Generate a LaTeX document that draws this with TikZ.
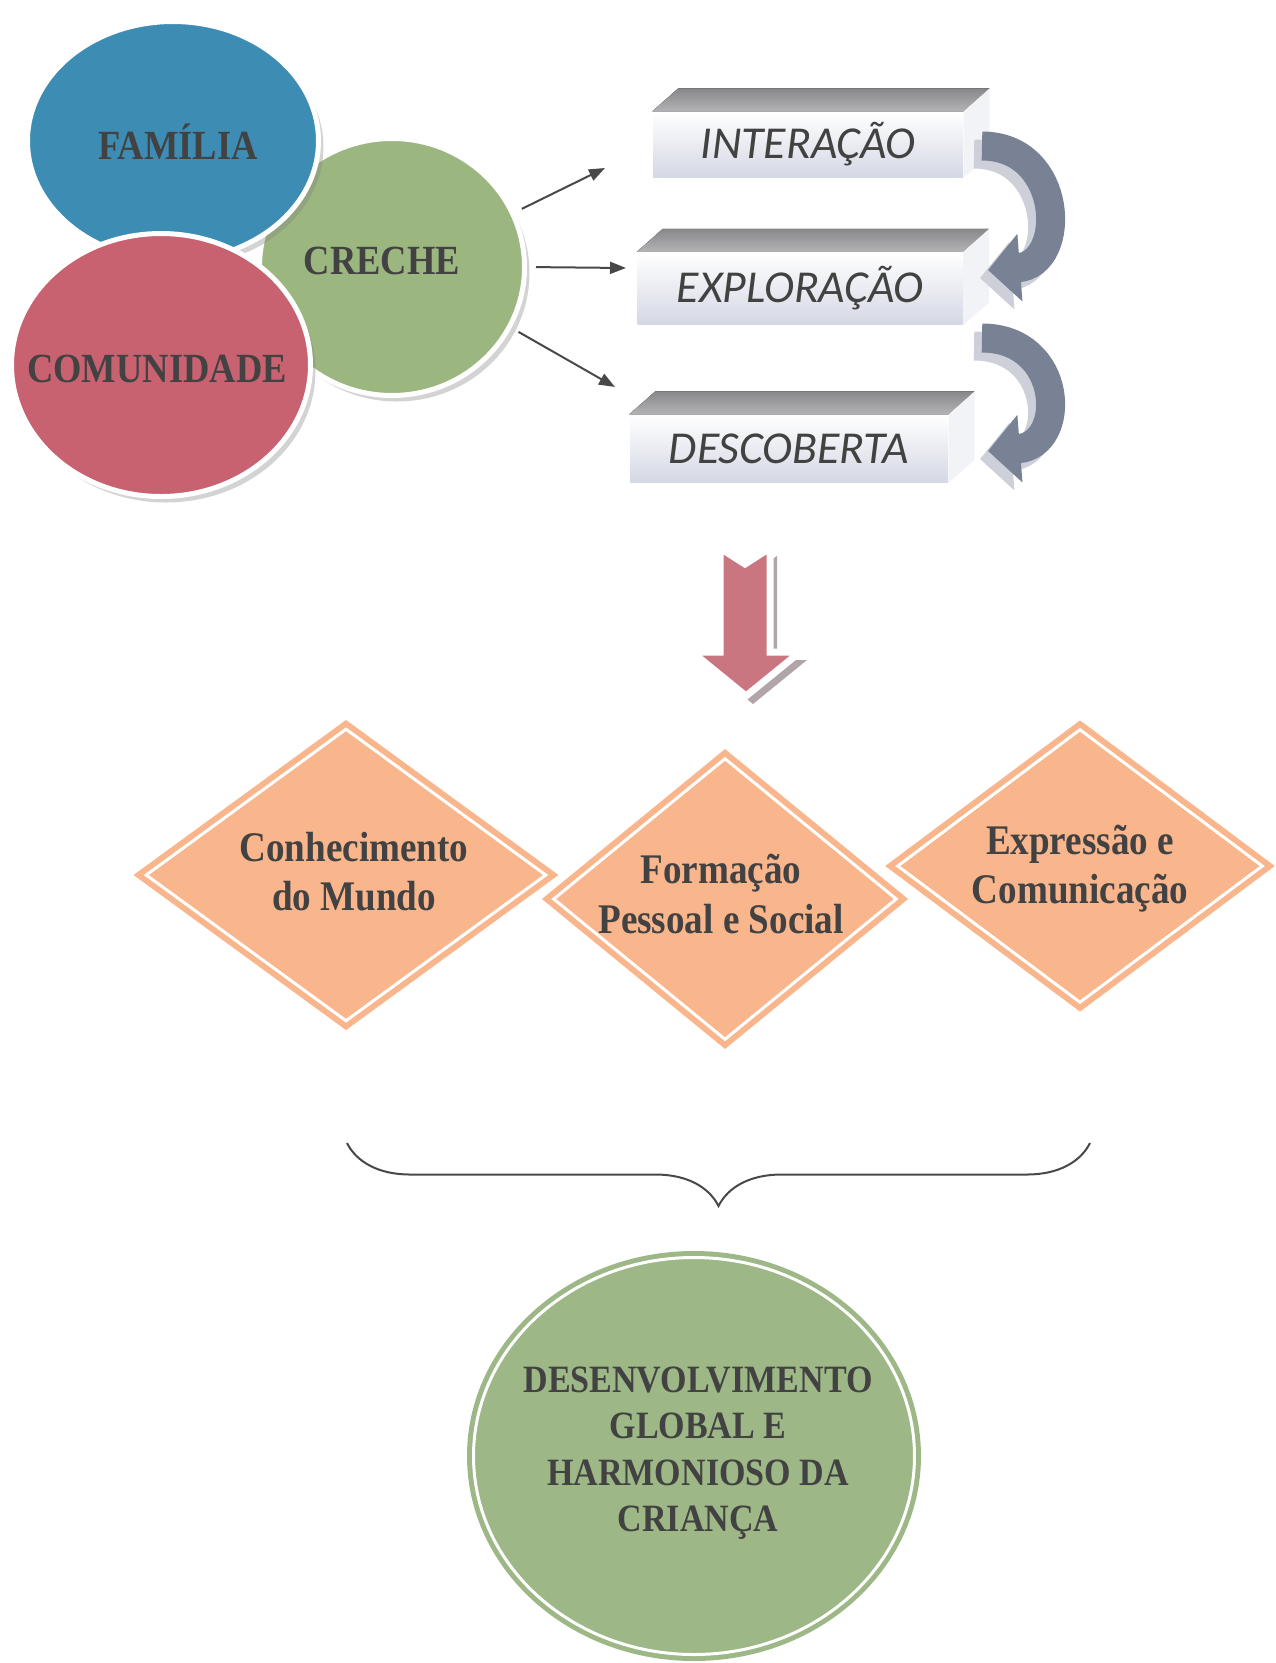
\documentclass[tikz,border=0pt]{standalone}
\usepackage{fontspec}
\setmainfont{Liberation Serif}
\newfontfamily\condfont[FakeStretch=0.88]{Liberation Serif}
\newfontfamily\handfont{Carlito}
\usepackage{tikz}
\usetikzlibrary{shapes.geometric, positioning, arrows.meta,
                decorations.pathreplacing, calc, shadows}
\definecolor{FamBlue}{RGB}{60,140,180}
\definecolor{CreGreen}{RGB}{156,182,128}
\definecolor{ComRed}{RGB}{200,98,112}
\definecolor{DiaOrange}{RGB}{249,182,141}
\definecolor{DevGreen}{RGB}{157,184,134}
\definecolor{DownPink}{RGB}{202,118,128}
\definecolor{DownShade}{RGB}{178,165,170}
\definecolor{CurvGrey}{RGB}{120,130,148}
\definecolor{CurvShade}{RGB}{205,208,216}
\definecolor{BoxTop}{RGB}{160,160,163}
\definecolor{BoxLow}{RGB}{212,216,228}
\definecolor{BoxSide}{RGB}{242,243,246}
\definecolor{TxtGrey}{RGB}{66,66,66}
\definecolor{LineGrey}{RGB}{72,72,72}

\begin{document}
\begin{tikzpicture}[x=0.1mm, y=-0.1mm,
          circ/.style={ellipse, draw=white, line width=0.5mm, inner sep=0pt,
                       drop shadow={shadow xshift=0.5mm, shadow yshift=-0.6mm,
                                    fill=gray, opacity=0.35}},
          ctxt/.style={inner sep=0pt, text=TxtGrey,
                       font=\condfont\bfseries\fontsize{11.8}{14}\selectfont},
          bx/.style={rectangle, inner sep=0pt, top color=white,
                     bottom color=BoxLow, text=TxtGrey,
                     font=\handfont\itshape\fontsize{13}{15}\selectfont},
          arr/.style={-{Triangle[length=1.6mm, width=1.2mm]}, draw=LineGrey,
                      line width=0.2mm},
          curvarr/.style={line width=2.9mm, draw=CurvGrey,
                          -{Triangle[width=6.6mm, length=3.2mm]}},
          dia/.style={diamond, fill=DiaOrange, draw=DiaOrange, double=white,
                      double distance=0.3mm, line width=0.6mm, inner sep=0pt},
          dtxt/.style={align=center, inner sep=0pt, text=TxtGrey,
                       font=\condfont\bfseries\fontsize{12}{14}\selectfont}
        ]
        \useasboundingbox (0,0) rectangle (1276,1663);

        % three circles
        \node[circ, fill=CreGreen, minimum width=26.5mm, minimum height=25.7mm]
              (cre) at (392,267) {};
        \node[ctxt] (cret) at (382,261) {CRECHE};
        \node[circ, fill=FamBlue, minimum width=29.1mm, minimum height=23.9mm]
              (fam) at (173,141) {};
        \node[ctxt] (famt) at (178,142) {FAMÍLIA};
        \node[circ, fill=ComRed, minimum width=29.9mm, minimum height=26.3mm]
              (com) at (161,365) {};
        \node[ctxt] (comt) at (157,369) {COMUNIDADE};

        % the three steps
        \node[bx, minimum width=31mm, minimum height=6.5mm] (int)
              at (808,144.5) {INTERAÇÃO};
        \node[bx, minimum width=32.5mm, minimum height=7.2mm] (exp)
              at (800,288.5) {EXPLORAÇÃO};
        \node[bx, minimum width=31.8mm, minimum height=6.7mm] (des)
              at (789,448.5) {DESCOBERTA};
        \foreach \b in {int, exp, des} {
          \fill[top color=BoxTop!85!black, bottom color=BoxTop!80!white]
                (\b.north west) -- ++(26,-23) -- ($(\b.north east)+(26,-23)$)
                -- (\b.north east) -- cycle;
          \fill[BoxSide] (\b.north east) -- ++(26,-23)
                -- ($(\b.south east)+(26,-23)$) -- (\b.south east) -- cycle;
        }

        \coordinate (a1) at (605,168);
        \coordinate (a2) at (626,268);
        \coordinate (a3) at (615,387);
        \draw[arr, shorten <=0.8mm] (cre.24) -- (a1);
        \draw[arr, shorten <=0.9mm] (cre.0) -- (a2);
        \draw[arr, shorten <=0.8mm] (cre.-27) -- (a3);

        % curved arrows on the right
        \coordinate (c1s) at (982,146);
        \coordinate (c1e) at (988,270);
        \coordinate (c2s) at (982,338);
        \coordinate (c2e) at (988,451);
        \draw[curvarr, draw=CurvShade, transform canvas={xshift=-0.8mm, yshift=-0.8mm}]
              (c1s) .. controls +(82,0) and +(80,-6) .. (c1e);
        \draw[curvarr] (c1s) .. controls +(82,0) and +(80,-6) .. (c1e);
        \draw[curvarr, draw=CurvShade, transform canvas={xshift=-0.8mm, yshift=-0.8mm}]
              (c2s) .. controls +(82,0) and +(80,-6) .. (c2e);
        \draw[curvarr] (c2s) .. controls +(82,0) and +(80,-6) .. (c2e);

        % big down arrow
        \fill[DownShade, transform canvas={xshift=0.7mm, yshift=-0.8mm}]
              (720,548) -- (745,564) -- (770,548) -- (770,652) -- (800,652)
              -- (746,696) -- (692,652) -- (720,652) -- cycle;
        \filldraw[fill=DownPink, draw=white, line width=0.7mm]
              (720,548) -- (745,564) -- (770,548) -- (770,652) -- (800,652)
              -- (746,696) -- (692,652) -- (720,652) -- cycle;

        % diamonds
        \node[dia, minimum width=40.2mm, minimum height=29.4mm] (d1)
              at (346,875) {};
        \node[dtxt] (d1t) at (354,872) {Conhecimento\\do Mundo};
        \node[dia, minimum width=34.5mm, minimum height=28.3mm] (d2)
              at (725,899) {};
        \node[dtxt] (d2t) at (721,894) {Formação\\Pessoal e Social};
        \node[dia, minimum width=36.7mm, minimum height=27.5mm] (d3)
              at (1080,866) {};
        \node[dtxt] (d3t) at (1080,869) {Expressão e\\Comunicação};

        % brace
        \coordinate (br1) at (347,1143);
        \coordinate (br2) at (1090,1143);
        \draw[decorate, decoration={brace, mirror, amplitude=6.3mm},
              draw=LineGrey, line width=0.2mm] (br1) -- (br2);

        % final circle
        \node[ellipse, fill=DevGreen, draw=DevGreen, double=white,
              double distance=0.3mm, line width=0.5mm, inner sep=0pt,
              minimum width=44.1mm, minimum height=39.7mm] (dev)
              at (694,1456) {};
        \node[align=center, inner sep=0pt, text=TxtGrey,
              font=\condfont\bfseries\fontsize{11}{13.2}\selectfont] (devt)
              at (698,1453)
              {DESENVOLVIMENTO\\GLOBAL E\\HARMONIOSO DA\\CRIANÇA};
      \end{tikzpicture}
\end{document}
